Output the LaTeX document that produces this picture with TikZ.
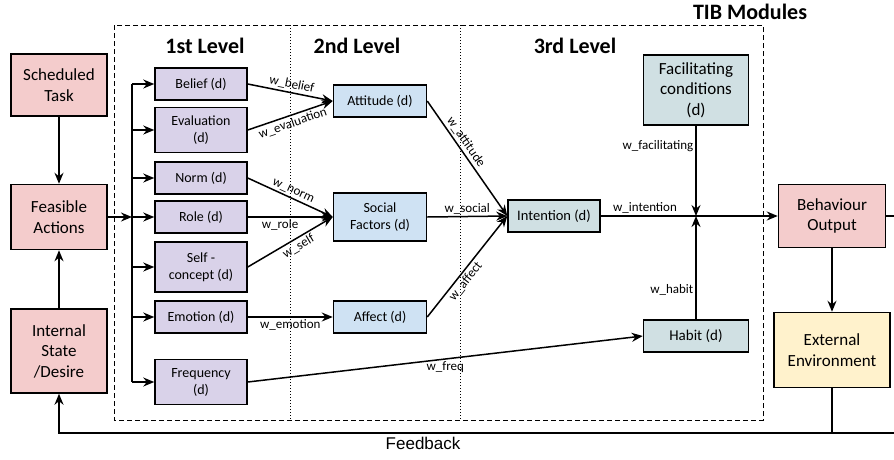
\documentclass[tikz,border=0pt]{standalone}
\usepackage{fontspec}
\setmainfont{Carlito}
\newfontfamily\arialfont{Liberation Sans}
\usepackage{xcolor}
\definecolor{taskpink}{RGB}{244,204,204}
\definecolor{lvlonecol}{RGB}{217,210,233}
\definecolor{lvltwocol}{RGB}{207,226,243}
\definecolor{lvlthreecol}{RGB}{208,224,227}
\definecolor{envcol}{RGB}{255,242,204}
\usepackage{tikz}
\usetikzlibrary{arrows.meta, calc, positioning}
\tikzset{
  blk/.style={draw, line width=1.5pt, align=center, inner sep=2pt},
  taskbox/.style={blk, fill=taskpink, font=\fontsize{17}{20.5}\selectfont, minimum width=96pt},
  lvlone/.style={blk, fill=lvlonecol, font=\fontsize{14}{17}\selectfont, minimum width=92pt, minimum height=32pt},
  lvltwo/.style={blk, fill=lvltwocol, font=\fontsize{14}{17}\selectfont, minimum width=93pt, minimum height=32pt},
  lvlthree/.style={blk, fill=lvlthreecol, font=\fontsize{14.5}{17.5}\selectfont, minimum height=32pt},
  wlabel/.style={font=\fontsize{13}{15}\selectfont, inner sep=2pt},
  lvltitle/.style={font=\fontsize{22}{26}\selectfont\bfseries},
}

\begin{document}
\begin{tikzpicture}[x=1pt, y=-1pt, line width=1.5pt, >={Stealth[length=11pt, width=9pt]}]
  \useasboundingbox (0,0) rectangle (894,459);

  % TIB module frame and level separators
  \draw[line width=1pt, dash pattern=on 5pt off 3pt] (114,25) rectangle (763,420);
  \draw[line width=1pt, dotted] (290,25) -- (290,420);
  \draw[line width=1pt, dotted] (460,25) -- (460,420);
  \node[lvltitle] (tib) at (750,12) {TIB Modules};
  \node[lvltitle] (lvl1) at (205,46) {1st Level};
  \node[lvltitle] (lvl2) at (357,46) {2nd Level};
  \node[lvltitle] (lvl3) at (575,46) {3rd Level};

  % inputs
  \node[taskbox, minimum height=62pt] (sched) at (59,85) {Scheduled\\Task};
  \node[taskbox, minimum height=65pt] (feasible) at (59,217) {Feasible\\Actions};
  \node[taskbox, minimum height=84pt] (internal) at (59,351) {Internal\\State\\/Desire};

  % 1st level
  \node[lvlone] (belief) at (201,84) {Belief (d)};
  \node[lvlone, minimum height=45pt] (evaluation) at (201,130) {Evaluation\\(d)};
  \node[lvlone] (norm) at (201,178) {Norm (d)};
  \node[lvlone] (role) at (201,217) {Role (d)};
  \node[lvlone, minimum height=50pt] (selfc) at (201,267) {Self -\\concept (d)};
  \node[lvlone] (emotion) at (201,317) {Emotion (d)};
  \node[lvlone, minimum height=45pt] (freq) at (201,382) {Frequency\\(d)};

  % 2nd level
  \node[lvltwo] (attitude) at (380,101) {Attitude (d)};
  \node[lvltwo, minimum height=48pt] (social) at (380,217) {Social\\Factors (d)};
  \node[lvltwo] (affect) at (380,317) {Affect (d)};

  % 3rd level
  \node[lvlthree, minimum width=92pt] (intention) at (554,216) {Intention (d)};
  \node[lvlthree, minimum width=105pt, minimum height=70pt, font=\fontsize{17}{20.5}\selectfont] (facil) at (696,90) {Facilitating\\conditions\\(d)};
  \node[lvlthree, minimum width=105pt, font=\fontsize{15}{18}\selectfont] (habit) at (696,336) {Habit (d)};

  % outputs
  \node[taskbox, minimum width=107pt, minimum height=63pt] (behav) at (832,216) {Behaviour\\Output};
  \node[taskbox, fill=envcol, minimum width=116pt, minimum height=75pt] (extenv) at (832,350) {External\\Environment};

  \draw[->] (sched) -- (feasible);
  \draw[->] (internal) -- (feasible);

  % fan out to the 1st level
  \coordinate (bus) at (132,217);
  \draw[->] (feasible) -- (bus);
  \draw (bus |- belief.west) -- (bus |- freq.west);
  \foreach \n in {belief,evaluation,norm,role,selfc,emotion,freq}
    \draw[->] (bus |- \n.west) -- (\n.west);

  % weights
  \draw[->] (belief.east) -- (attitude.west) node[wlabel, midway, above, sloped] {w\_belief};
  \draw[->] (evaluation.east) -- (attitude.west) node[wlabel, midway, below, sloped] {w\_evaluation};
  \draw[->] (norm.east) -- (social.west) node[wlabel, midway, above, sloped] {w\_norm};
  \draw[->] (role.east) -- (social.west) node[wlabel, pos=0.38, below] {w\_role};
  \draw[->] (selfc.east) -- (social.west) node[wlabel, pos=0.55, below, sloped] {w\_self};
  \draw[->] (emotion.east) -- (affect.west) node[wlabel, midway, below] {w\_emotion};
  \draw[->] (attitude.east) -- (intention.west) node[wlabel, pos=0.4, above, sloped] {w\_attitude};
  \draw[->] (social.east) -- (intention.west) node[wlabel, midway, above] {w\_social};
  \draw[->] (affect.east) -- (intention.west) node[wlabel, pos=0.4, below, sloped] {w\_affect};
  \draw[->] (freq.east) -- (habit.west) node[wlabel, midway, below] {w\_freq};

  \coordinate (jn) at (facil.south |- intention.east);
  \draw[->] (intention) -- (behav) node[wlabel, pos=0.25, above] {w\_intention};
  \draw[->] (facil) -- (jn) node[wlabel, pos=0.22, left] {w\_facilitating};
  \draw[->] (habit) -- (jn) node[wlabel, pos=0.28, left] {w\_habit};

  % feedback loop
  \coordinate (fb) at (894,433);
  \draw[->] (behav) -- (extenv);
  \draw (behav.east) -- (behav.east -| fb);
  \draw (extenv) -- (extenv |- fb);
  \draw[->] (fb) -- node[pos=0.564, below, font=\arialfont\fontsize{17}{20}\selectfont] {Feedback} (internal |- fb) -- (internal);
\end{tikzpicture}
\end{document}
